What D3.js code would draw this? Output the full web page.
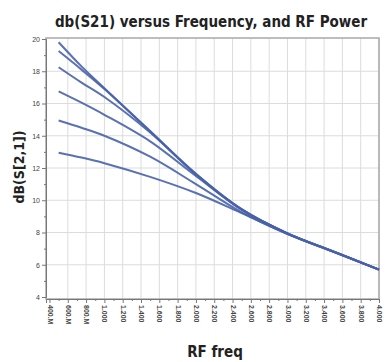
<!DOCTYPE html>
<html>
<head>
<meta charset="utf-8">
<script src="https://cdn.jsdelivr.net/npm/d3@7"></script>
<style>
  body { margin: 0; background: #fff; }
  text { font-family: "Liberation Sans Narrow", "DejaVu Sans Condensed", "Roboto", sans-serif; }
  .tick text { font-family: "Liberation Sans", Arial, sans-serif; }
</style>
</head>
<body>
<script>
// frequencies (MHz) the curves are sampled at
var freqs = [500, 750, 1000, 1500, 2000, 2500, 3000, 3500, 4000];

// dB(S21) for each RF power level, top curve first
var s21_p1 = [19.8, 18.3, 16.95, 14.3, 11.65, 9.45, 7.95, 6.83, 5.7];
var s21_p2 = [19.25, 18.1, 16.9, 14.27, 11.62, 9.43, 7.95, 6.83, 5.7];
var s21_p3 = [18.25, 17.3, 16.4, 14.2, 11.6, 9.42, 7.94, 6.82, 5.7];
var s21_p4 = [16.75, 16.05, 15.3, 13.65, 11.5, 9.4, 7.93, 6.82, 5.7];
var s21_p5 = [14.95, 14.5, 14.0, 12.7, 11.0, 9.25, 7.92, 6.81, 5.7];
var s21_p6 = [12.95, 12.65, 12.3, 11.45, 10.45, 9.2, 7.9, 6.8, 5.7];
var series = [s21_p1, s21_p2, s21_p3, s21_p4, s21_p5, s21_p6];

// axis ticks
var xTicks = d3.range(400, 4001, 200);
var yTicks = [4, 6, 8, 10, 12, 14, 16, 18, 20];

var width = 386, height = 362;
var margin = {left: 46, right: 7, top: 38, bottom: 63};

var svg = d3.select("body").append("svg").attr("width", width).attr("height", height);

var x = d3.scaleLinear().domain([362, 4000]).range([margin.left, width - margin.right]);
var y = d3.scaleLinear().domain([4, 20]).range([297, 39]);

var plotTop = margin.top, plotBottom = height - margin.bottom;

// grid
svg.append("g").selectAll("line").data(xTicks.slice(1)).enter().append("line")
   .attr("x1", function(d){ return x(d); }).attr("x2", function(d){ return x(d); })
   .attr("y1", plotTop).attr("y2", plotBottom)
   .attr("stroke", "#dcdcdc").attr("stroke-width", 1);
svg.append("g").selectAll("line").data(yTicks.slice(1, -1)).enter().append("line")
   .attr("x1", margin.left).attr("x2", width - margin.right)
   .attr("y1", function(d){ return y(d); }).attr("y2", function(d){ return y(d); })
   .attr("stroke", "#dcdcdc").attr("stroke-width", 1);

// frame
svg.append("rect").attr("x", margin.left).attr("y", plotTop)
   .attr("width", width - margin.right - margin.left).attr("height", plotBottom - plotTop)
   .attr("fill", "none").attr("stroke", "#a8a8a8").attr("stroke-width", 1.5);

// axes
var fmt = function(d){ return d < 1000 ? d + ".M" : d3.format(".3f")(d / 1000); };

var yAxis = d3.axisLeft(y).tickValues(yTicks).tickSize(4).tickPadding(2);
var yMinor = d3.axisLeft(y).tickValues(d3.range(5, 20, 2)).tickSize(2).tickFormat("");
var gy = svg.append("g").attr("transform", "translate(" + margin.left + ",0)").call(yAxis);
svg.append("g").attr("transform", "translate(" + margin.left + ",0)").call(yMinor).select(".domain").remove();

var xAxis = d3.axisBottom(x).tickValues(xTicks).tickSize(4).tickFormat(fmt);
var xMinor = d3.axisBottom(x).tickValues(d3.range(500, 4000, 200)).tickSize(2).tickFormat("");
var gx = svg.append("g").attr("transform", "translate(0," + plotBottom + ")").call(xAxis);
svg.append("g").attr("transform", "translate(0," + plotBottom + ")").call(xMinor).select(".domain").remove();

svg.selectAll(".domain").attr("stroke", "#777");
svg.selectAll(".tick line").attr("stroke", "#777");
gy.selectAll("text").attr("font-size", 7).attr("fill", "#444");
gx.selectAll("text").attr("font-size", 7).attr("fill", "#444").attr("font-weight", "bold")
  .attr("text-anchor", "start").attr("dy", "0.35em")
  .attr("transform", "translate(0,6) rotate(90)").attr("x", 0).attr("y", 0);

// curves
var line = d3.line()
   .x(function(d, i){ return x(freqs[i]); })
   .y(function(d){ return y(d); })
   .curve(d3.curveCatmullRom.alpha(0.5));

svg.append("g").selectAll("path").data(series).enter().append("path")
   .attr("d", function(d){ return line(d); })
   .attr("fill", "none").attr("stroke", "#4862aa").attr("stroke-width", 2)
   .attr("stroke-opacity", 0.9);

// titles
svg.append("text").attr("x", 211).attr("y", 27).attr("text-anchor", "middle")
   .attr("font-size", 15).attr("font-weight", "bold").attr("fill", "#222")
   .text("db(S21) versus Frequency, and RF Power");

svg.append("text").attr("transform", "translate(24,167) rotate(-90)").attr("text-anchor", "middle")
   .attr("font-size", 14).attr("font-weight", "bold").attr("fill", "#222")
   .text("dB(S[2,1])");

svg.append("text").attr("x", 215).attr("y", 357).attr("text-anchor", "middle")
   .attr("font-size", 15).attr("font-weight", "bold").attr("fill", "#222")
   .text("RF freq");
</script>
</body>
</html>
